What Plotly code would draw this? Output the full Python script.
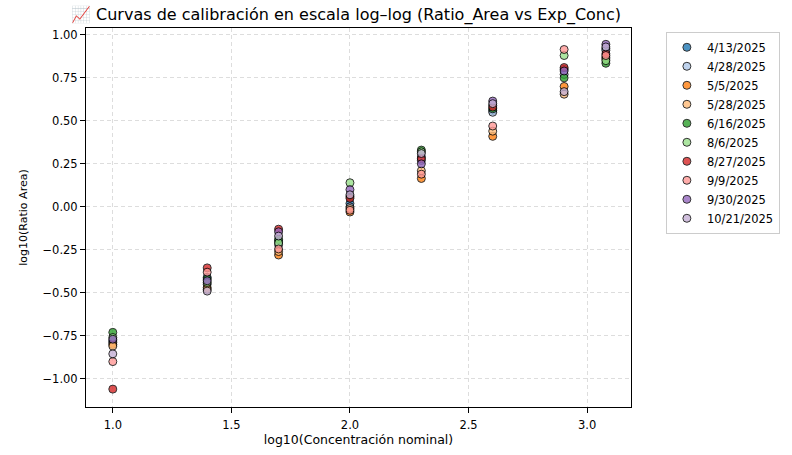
import plotly.graph_objects as go

x_log = [1.0, 1.398, 1.699, 2.0, 2.301, 2.602, 2.903, 3.079]

dates = ["4/13/2025", "4/28/2025", "5/5/2025", "5/28/2025", "6/16/2025",
         "8/6/2025", "8/27/2025", "9/9/2025", "9/30/2025", "10/21/2025"]

y_4_13 = [-0.78, -0.41, -0.20, 0.02, 0.29, 0.56, 0.80, 0.92]
y_4_28 = [-0.79, -0.45, -0.22, 0.00, 0.27, 0.55, 0.77, 0.91]
y_5_5 = [-0.80, -0.47, -0.28, -0.03, 0.165, 0.41, 0.70, 0.87]
y_5_28 = [-0.81, -0.48, -0.26, -0.01, 0.21, 0.44, 0.655, 0.86]
y_6_16 = [-0.73, -0.42, -0.19, 0.06, 0.33, 0.57, 0.75, 0.835]
y_8_6 = [-0.76, -0.44, -0.21, 0.14, 0.32, 0.59, 0.88, 0.85]
y_8_27 = [-1.06, -0.355, -0.13, 0.05, 0.28, 0.58, 0.81, 0.89]
y_9_9 = [-0.90, -0.38, -0.245, -0.02, 0.19, 0.47, 0.915, 0.88]
y_9_30 = [-0.77, -0.43, -0.145, 0.10, 0.25, 0.615, 0.79, 0.945]
y_10_21 = [-0.855, -0.49, -0.17, 0.07, 0.31, 0.60, 0.67, 0.93]

series = [y_4_13, y_4_28, y_5_5, y_5_28, y_6_16, y_8_6, y_8_27, y_9_9, y_9_30, y_10_21]
colors = ["#1f77b4", "#aec7e8", "#ff7f0e", "#ffbb78", "#2ca02c",
          "#98df8a", "#d62728", "#ff9896", "#9467bd", "#c5b0d5"]

x_ticks = [1.0, 1.5, 2.0, 2.5, 3.0]
y_ticks = [-1.0, -0.75, -0.5, -0.25, 0.0, 0.25, 0.5, 0.75, 1.0]

fig = go.Figure()
for name, ys, c in zip(dates, series, colors):
    fig.add_trace(go.Scatter(
        x=x_log, y=ys, mode="markers", name=name,
        marker=dict(size=8, color=c, opacity=0.8,
                    line=dict(color="black", width=1)),
    ))

font = "DejaVu Sans, sans-serif"
fig.update_layout(
    width=792, height=455,
    margin=dict(l=86, r=159, t=28, b=37),
    paper_bgcolor="white", plot_bgcolor="white",
    font=dict(family=font, size=11.5, color="black"),
    title=dict(text="📈 Curvas de calibración en escala log–log (Ratio_Area vs Exp_Conc)",
               x=346 / 792, xanchor="center", y=0.969, yanchor="middle",
               font=dict(size=16, family=font)),
    legend=dict(x=1.064, y=0.99, xanchor="left", yanchor="top",
                bordercolor="#cccccc", borderwidth=1, bgcolor="white",
                font=dict(size=11.5), tracegroupgap=0),
    showlegend=True,
)
fig.update_xaxes(
    range=[0.887, 3.185], tickvals=x_ticks, ticktext=[f"{v:.1f}" for v in x_ticks],
    showline=True, linecolor="black", linewidth=1, mirror=True,
    ticks="outside", ticklen=5, tickcolor="black", ticklabelstandoff=2,
    showgrid=True, gridcolor="#dddddd", griddash="4px,3px", gridwidth=1,
    zeroline=False,
    title=dict(text="log10(Concentración nominal)", standoff=2, font=dict(size=12.5)),
)
fig.update_yaxes(
    range=[-1.164, 1.04], tickvals=y_ticks, tickformat=".2f",
    showline=True, linecolor="black", linewidth=1, mirror=True,
    ticks="outside", ticklen=5, tickcolor="black",
    showgrid=True, gridcolor="#dddddd", griddash="4px,3px", gridwidth=1,
    zeroline=False,
    title=dict(text="log10(Ratio Area)", standoff=12, font=dict(size=11)),
)

fig.write_html("out.html")
